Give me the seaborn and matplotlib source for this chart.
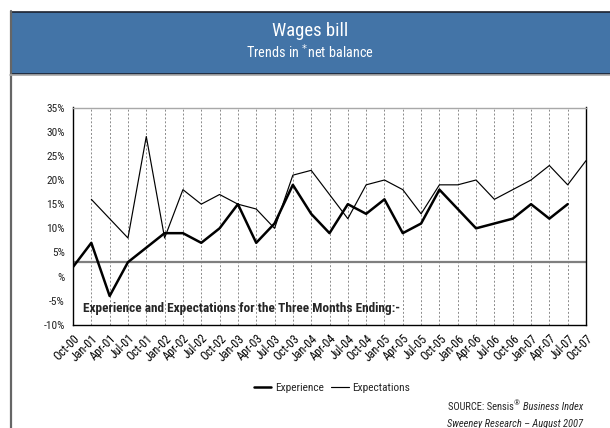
import numpy as np
import pandas as pd
import matplotlib
matplotlib.use("Agg")
import matplotlib.pyplot as plt
from matplotlib import font_manager
from matplotlib.patches import Rectangle
from matplotlib.lines import Line2D
import seaborn as sns

# ---- data -------------------------------------------------------------
months = ["Oct-00", "Jan-01", "Apr-01", "Jul-01", "Oct-01", "Jan-02", "Apr-02",
          "Jul-02", "Oct-02", "Jan-03", "Apr-03", "Jul-03", "Oct-03", "Jan-04",
          "Apr-04", "Jul-04", "Oct-04", "Jan-05", "Apr-05", "Jul-05", "Oct-05",
          "Jan-06", "Apr-06", "Jul-06", "Oct-06", "Jan-07", "Apr-07", "Jul-07",
          "Oct-07"]
experience = [2, 7, -4, 3, 6, 9, 9, 7, 10, 15, 7, 11, 19, 13, 9, 15, 13, 16,
              9, 11, 18, 14, 10, 11, 12, 15, 12, 15, np.nan]
expectations = [np.nan, 16, 12, 8, 29, 8, 18, 15, 17, 15, 14, 10, 21, 22, 17,
                12, 19, 20, 18, 13, 19, 19, 20, 16, 18, 20, 23, 19, 24]
y_ticks = [-10, -5, 0, 5, 10, 15, 20, 25, 30, 35]
y_tick_labels = ["-10%", "-5%", "%", "5%", "10%", "15%", "20%", "25%", "30%", "35%"]
reference_level = 3

# ---- style ------------------------------------------------------------
sns.set_style("white")
installed = {f.name for f in font_manager.fontManager.ttflist}
preferred = ["Liberation Sans Narrow", "Roboto Condensed", "Open Sans Condensed",
             "DejaVu Sans Condensed", "Liberation Sans", "DejaVu Sans"]
FONT = [f for f in preferred if f in installed] or ["DejaVu Sans"]
plt.rcParams["font.family"] = FONT
plt.rcParams["mathtext.fontset"] = "dejavusans"

W, H = 610, 428
fig = plt.figure(figsize=(W / 100, H / 100), dpi=100)
fig.patch.set_facecolor("white")
renderer = fig.canvas.get_renderer()


def fx(px):
    return px / W


def fy(py):
    return 1 - py / H


def fit_width(text_obj, target_px):
    """Scale a text's font size so that it spans target_px pixels."""
    w = text_obj.get_window_extent(renderer).width
    text_obj.set_fontsize(text_obj.get_fontsize() * target_px / w)


# outer frame and title banner
fig.add_artist(Line2D([fx(10.5), fx(10.5)], [fy(11), fy(430)], color="#666666",
                      lw=1.6, transform=fig.transFigure))
fig.add_artist(Line2D([fx(10), fx(615)], [fy(75), fy(75)], color="#a8a8a8",
                      lw=1.2, transform=fig.transFigure))
fig.add_artist(Rectangle((fx(10.5), fy(73.5)), fx(605), 62 / H,
                         facecolor="#4374a7", edgecolor="#1c2230", lw=1.2,
                         transform=fig.transFigure))
t = fig.text(fx(310), fy(31), "Wages bill", color="white", fontsize=13,
             ha="center", va="center")
fit_width(t, 76)
t = fig.text(fx(310), fy(52), "Trends in $^{*}$net balance", color="white",
             fontsize=10.5, ha="center", va="center")
fit_width(t, 128)

# ---- main axes --------------------------------------------------------
ax = fig.add_axes([fx(73), fy(325), fx(586) - fx(73), (325 - 107.5) / H])
df = pd.DataFrame({"pos": np.arange(len(months)),
                   "Experience": experience,
                   "Expectations": expectations})

sns.lineplot(data=df, x="pos", y="Experience", color="black", lw=1.8,
             ax=ax, label="Experience")
sns.lineplot(data=df, x="pos", y="Expectations", color="black", lw=0.85,
             ax=ax, label="Expectations")
ax.axhline(reference_level, color="#7f7f7f", lw=1.6, zorder=1)

ax.set_xlim(0, len(months) - 1)
ax.set_ylim(y_ticks[0], y_ticks[-1])
ax.set_xticks(np.arange(len(months)))
ax.set_xticklabels(months, rotation=45, ha="right", rotation_mode="anchor",
                   fontsize=8.6)
ax.set_yticks(y_ticks)
ax.set_yticklabels(y_tick_labels, fontsize=8.2, color="#222222")
ax.set_xlabel("")
ax.set_ylabel("")
ax.tick_params(axis="both", direction="out", length=3, width=0.8,
               colors="black", pad=2)
ax.tick_params(axis="y", labelcolor="#222222", pad=3)

ax.grid(axis="x", linestyle=(0, (2, 2)), color="#8a8a8a", lw=0.7)
ax.grid(axis="y", visible=False)
for side in ["left", "right", "bottom"]:
    ax.spines[side].set_color("black")
    ax.spines[side].set_linewidth(1.0)
ax.spines["top"].set_color("#a8a8a8")
ax.spines["top"].set_linewidth(1.0)

note = ax.text(0.019, 0.078,
               "Experience and Expectations for the Three Months Ending:-",
               transform=ax.transAxes, fontsize=8.5, fontweight="bold",
               ha="left", va="center")
fit_width(note, 316)

leg = ax.legend(loc="center", bbox_to_anchor=(fx(332), fy(388)),
                bbox_transform=fig.transFigure, ncol=2, frameon=False,
                fontsize=8.2, handlelength=1.5, handletextpad=0.3,
                columnspacing=0.7)

# ---- source note ------------------------------------------------------
t_it = fig.text(fx(583), fy(407), "Business Index", style="italic",
                fontsize=7.6, ha="right", va="center")
bb = t_it.get_window_extent(renderer)
t_reg = fig.text(bb.x0 / W - fx(3), fy(403), "®", fontsize=5.5,
                 ha="right", va="center")
bb2 = t_reg.get_window_extent(renderer)
fig.text(bb2.x0 / W, fy(407), "SOURCE: Sensis", fontsize=7.6,
         ha="right", va="center")
fig.text(fx(583), fy(424), "Sweeney Research – August 2007", style="italic",
         fontsize=7.6, ha="right", va="center")

fig.savefig("out.png", dpi=100)
